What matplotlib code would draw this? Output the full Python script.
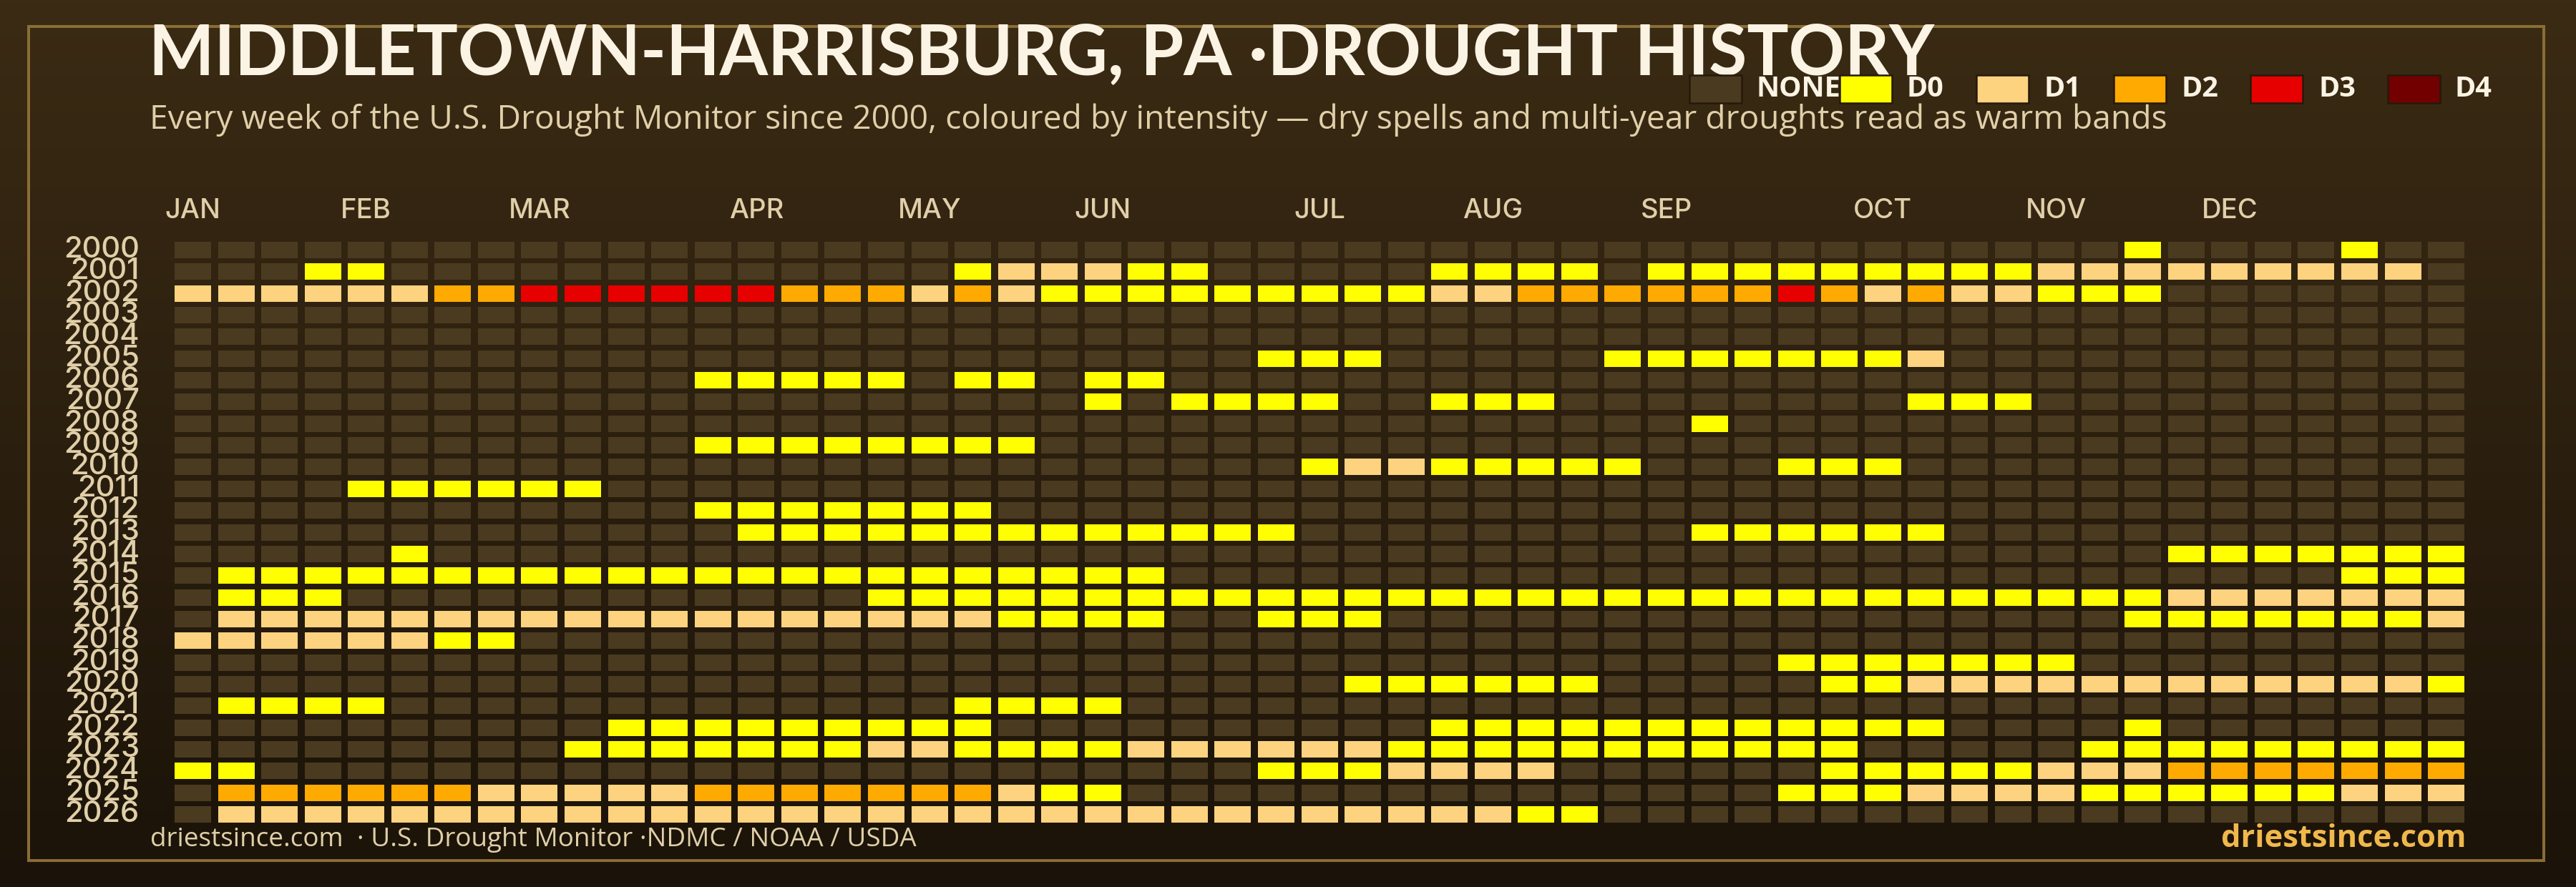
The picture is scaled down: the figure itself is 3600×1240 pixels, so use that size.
import numpy as np
import matplotlib
matplotlib.use("Agg")
import matplotlib.pyplot as plt
from matplotlib.patches import Rectangle
from matplotlib.transforms import Affine2D, ScaledTranslation

# ---------- data: weekly drought level, 0=none, 1=D0, 2=D1, 3=D2, 4=D3, 5=D4 ----------
years = list(range(2000, 2027))
w2000 = [0,0,0,0,0,0,0,0,0,0,0,0,0,0,0,0,0,0,0,0,0,0,0,0,0,0,0,0,0,0,0,0,0,0,0,0,0,0,0,0,0,0,0,0,0,1,0,0,0,0,1,0,0]
w2001 = [0,0,0,1,1,0,0,0,0,0,0,0,0,0,0,0,0,0,1,2,2,2,1,1,0,0,0,0,0,1,1,1,1,0,1,1,1,1,1,1,1,1,1,2,2,2,2,2,2,2,2,2,0]
w2002 = [2,2,2,2,2,2,3,3,4,4,4,4,4,4,3,3,3,2,3,2,1,1,1,1,1,1,1,1,1,2,2,3,3,3,3,3,3,4,3,2,3,2,2,1,1,1,0,0,0,0,0,0,0]
w2003 = [0,0,0,0,0,0,0,0,0,0,0,0,0,0,0,0,0,0,0,0,0,0,0,0,0,0,0,0,0,0,0,0,0,0,0,0,0,0,0,0,0,0,0,0,0,0,0,0,0,0,0,0,0]
w2004 = [0,0,0,0,0,0,0,0,0,0,0,0,0,0,0,0,0,0,0,0,0,0,0,0,0,0,0,0,0,0,0,0,0,0,0,0,0,0,0,0,0,0,0,0,0,0,0,0,0,0,0,0,0]
w2005 = [0,0,0,0,0,0,0,0,0,0,0,0,0,0,0,0,0,0,0,0,0,0,0,0,0,1,1,1,0,0,0,0,0,1,1,1,1,1,1,1,2,0,0,0,0,0,0,0,0,0,0,0,0]
w2006 = [0,0,0,0,0,0,0,0,0,0,0,0,1,1,1,1,1,0,1,1,0,1,1,0,0,0,0,0,0,0,0,0,0,0,0,0,0,0,0,0,0,0,0,0,0,0,0,0,0,0,0,0,0]
w2007 = [0,0,0,0,0,0,0,0,0,0,0,0,0,0,0,0,0,0,0,0,0,1,0,1,1,1,1,0,0,1,1,1,0,0,0,0,0,0,0,0,1,1,1,0,0,0,0,0,0,0,0,0,0]
w2008 = [0,0,0,0,0,0,0,0,0,0,0,0,0,0,0,0,0,0,0,0,0,0,0,0,0,0,0,0,0,0,0,0,0,0,0,1,0,0,0,0,0,0,0,0,0,0,0,0,0,0,0,0,0]
w2009 = [0,0,0,0,0,0,0,0,0,0,0,0,1,1,1,1,1,1,1,1,0,0,0,0,0,0,0,0,0,0,0,0,0,0,0,0,0,0,0,0,0,0,0,0,0,0,0,0,0,0,0,0,0]
w2010 = [0,0,0,0,0,0,0,0,0,0,0,0,0,0,0,0,0,0,0,0,0,0,0,0,0,0,1,2,2,1,1,1,1,1,0,0,0,1,1,1,0,0,0,0,0,0,0,0,0,0,0,0,0]
w2011 = [0,0,0,0,1,1,1,1,1,1,0,0,0,0,0,0,0,0,0,0,0,0,0,0,0,0,0,0,0,0,0,0,0,0,0,0,0,0,0,0,0,0,0,0,0,0,0,0,0,0,0,0,0]
w2012 = [0,0,0,0,0,0,0,0,0,0,0,0,1,1,1,1,1,1,1,0,0,0,0,0,0,0,0,0,0,0,0,0,0,0,0,0,0,0,0,0,0,0,0,0,0,0,0,0,0,0,0,0,0]
w2013 = [0,0,0,0,0,0,0,0,0,0,0,0,0,1,1,1,1,1,1,1,1,1,1,1,1,1,0,0,0,0,0,0,0,0,0,1,1,1,1,1,1,0,0,0,0,0,0,0,0,0,0,0,0]
w2014 = [0,0,0,0,0,1,0,0,0,0,0,0,0,0,0,0,0,0,0,0,0,0,0,0,0,0,0,0,0,0,0,0,0,0,0,0,0,0,0,0,0,0,0,0,0,0,1,1,1,1,1,1,1]
w2015 = [0,1,1,1,1,1,1,1,1,1,1,1,1,1,1,1,1,1,1,1,1,1,1,0,0,0,0,0,0,0,0,0,0,0,0,0,0,0,0,0,0,0,0,0,0,0,0,0,0,0,1,1,1]
w2016 = [0,1,1,1,0,0,0,0,0,0,0,0,0,0,0,0,1,1,1,1,1,1,1,1,1,1,1,1,1,1,1,1,1,1,1,1,1,1,1,1,1,1,1,1,1,1,2,2,2,2,2,2,2]
w2017 = [0,2,2,2,2,2,2,2,2,2,2,2,2,2,2,2,2,2,2,1,1,1,1,0,0,1,1,1,0,0,0,0,0,0,0,0,0,0,0,0,0,0,0,0,0,1,1,1,1,1,1,1,2]
w2018 = [2,2,2,2,2,2,1,1,0,0,0,0,0,0,0,0,0,0,0,0,0,0,0,0,0,0,0,0,0,0,0,0,0,0,0,0,0,0,0,0,0,0,0,0,0,0,0,0,0,0,0,0,0]
w2019 = [0,0,0,0,0,0,0,0,0,0,0,0,0,0,0,0,0,0,0,0,0,0,0,0,0,0,0,0,0,0,0,0,0,0,0,0,0,1,1,1,1,1,1,1,0,0,0,0,0,0,0,0,0]
w2020 = [0,0,0,0,0,0,0,0,0,0,0,0,0,0,0,0,0,0,0,0,0,0,0,0,0,0,0,1,1,1,1,1,1,0,0,0,0,0,1,1,2,2,2,2,2,2,2,2,2,2,2,2,1]
w2021 = [0,1,1,1,1,0,0,0,0,0,0,0,0,0,0,0,0,0,1,1,1,1,0,0,0,0,0,0,0,0,0,0,0,0,0,0,0,0,0,0,0,0,0,0,0,0,0,0,0,0,0,0,0]
w2022 = [0,0,0,0,0,0,0,0,0,0,1,1,1,1,1,1,1,1,1,0,0,0,0,0,0,0,0,0,0,1,1,1,1,1,1,1,1,1,1,1,1,0,0,0,0,1,0,0,0,0,0,0,0]
w2023 = [0,0,0,0,0,0,0,0,0,1,1,1,1,1,1,1,2,2,1,1,1,1,2,2,2,2,2,2,1,1,1,1,1,1,1,1,1,1,1,0,0,0,0,0,1,1,1,1,1,1,1,1,1]
w2024 = [1,1,0,0,0,0,0,0,0,0,0,0,0,0,0,0,0,0,0,0,0,0,0,0,0,1,1,1,2,2,2,2,0,0,0,0,0,0,1,1,1,1,1,2,2,2,3,3,3,3,3,3,3]
w2025 = [0,3,3,3,3,3,3,2,2,2,2,2,3,3,3,3,3,3,3,2,1,1,0,0,0,0,0,0,0,0,0,0,0,0,0,0,0,1,1,1,2,2,2,2,1,1,1,1,1,1,2,2,2]
w2026 = [0,2,2,2,2,2,2,2,2,2,2,2,2,2,2,2,2,2,2,2,2,2,2,2,2,2,2,2,2,2,2,1,1,0,0,0,0,0,0,0,0,0,0,0,0,0,0,0,0,0,0,0,0]
week_rows = [w2000,w2001,w2002,w2003,w2004,w2005,w2006,w2007,w2008,w2009,w2010,w2011,w2012,
             w2013,w2014,w2015,w2016,w2017,w2018,w2019,w2020,w2021,w2022,w2023,w2024,w2025,w2026]
month_labels = ["JAN","FEB","MAR","APR","MAY","JUN","JUL","AUG","SEP","OCT","NOV","DEC"]
month_weeks = [0,4,8,13,17,21,26,30,34,39,43,47]
legend_labels = ["NONE","D0","D1","D2","D3","D4"]
level_colors = ["#4a3a1f","#ffff00","#fdd37f","#ffaa00","#e60000","#730000"]

W, H = 3600, 1240
DPI = 100
fig = plt.figure(figsize=(W/DPI, H/DPI), dpi=DPI)
px = Affine2D().scale(1, -1).translate(0, H)   # top-left pixel coordinates

BODY = "Open Sans"
AXISFONT = "Inter"
CREAM = "#fbf3e3"
TAN = "#e0cfa8"
GOLD = "#f0b84c"
BORDER = "#8a6d36"

# background gradient
bg = fig.add_axes([0, 0, 1, 1], zorder=-2)
top = np.array([0x3b, 0x2b, 0x14]) / 255
bot = np.array([0x1b, 0x13, 0x09]) / 255
t = np.linspace(0, 1, 256)[:, None, None]
bg.imshow(top[None, None, :] * (1 - t) + bot[None, None, :] * t, aspect="auto", extent=[0, 1, 0, 1])
bg.axis("off")

# frame
fig.add_artist(Rectangle((40, 37), 3515, 1166, transform=px, fill=False, ec=BORDER, lw=4*72/DPI, zorder=1))

# heat map
ax = fig.add_axes([239.2/W, 1-1153.8/H, (3448.9-239.2)/W, (1153.8-334.3)/H], zorder=2)
ax.patch.set_alpha(0)
for year, row in zip(years, week_rows):
    ax.bar(range(len(row)), [0.758]*len(row), bottom=year-0.379, width=0.842,
           color=[level_colors[v] for v in row], linewidth=0)
ax.set_xlim(-0.5, 52.5)
ax.set_ylim(2026.5, 1999.5)
for s in ax.spines.values():
    s.set_visible(False)
ax.xaxis.tick_top()
ax.set_xticks(month_weeks, month_labels)
ax.set_yticks(years, [str(y) for y in years])
ax.tick_params(axis="both", length=0)
ax.tick_params(axis="x", pad=15, labelsize=27.5, labelcolor=TAN)
ax.tick_params(axis="y", pad=32, labelsize=30, labelcolor=TAN)
for lab in ax.get_xticklabels() + ax.get_yticklabels():
    lab.set_family(AXISFONT)
    lab.set_weight("medium")
nudge = ScaledTranslation(0, 4.5/DPI, fig.dpi_scale_trans)
for lab in ax.get_yticklabels():
    lab.set_transform(lab.get_transform() + nudge)

# titles
fig.text(208, 105, "MIDDLETOWN-HARRISBURG, PA ·DROUGHT HISTORY", transform=px, family="Lato",
         weight="bold", size=69.8, color=CREAM, va="baseline", ha="left", zorder=3)
fig.text(209, 180, "Every week of the U.S. Drought Monitor since 2000, coloured by intensity — dry spells and multi-year droughts read as warm bands",
         transform=px, family=BODY, weight="medium", size=33.25, color=TAN, va="baseline", ha="left", zorder=3)

# legend
swatch_x = [2361, 2571, 2762, 2954, 3145, 3337]
label_x = [2454, 2664, 2856, 3048, 3240, 3431]
for sx, lx, lab, col in zip(swatch_x, label_x, legend_labels, level_colors):
    fig.add_artist(Rectangle((sx, 105), 73, 39, transform=px, fc=col, ec="#25190b", lw=2.5*72/DPI, zorder=4))
    fig.text(lx, 135, lab, transform=px, family=BODY, weight="bold", size=28.5, color=CREAM,
             va="baseline", ha="left", zorder=5)

# footer
fig.text(210, 1183, "driestsince.com  · U.S. Drought Monitor ·NDMC / NOAA / USDA", transform=px, family=BODY,
         size=26.6, color=TAN, va="baseline", ha="left", zorder=3)
fig.text(3447, 1184, "driestsince.com", transform=px, family=BODY, weight="bold", size=31.2, color=GOLD,
         va="baseline", ha="right", zorder=3)

fig.savefig("out.png", dpi=DPI)
